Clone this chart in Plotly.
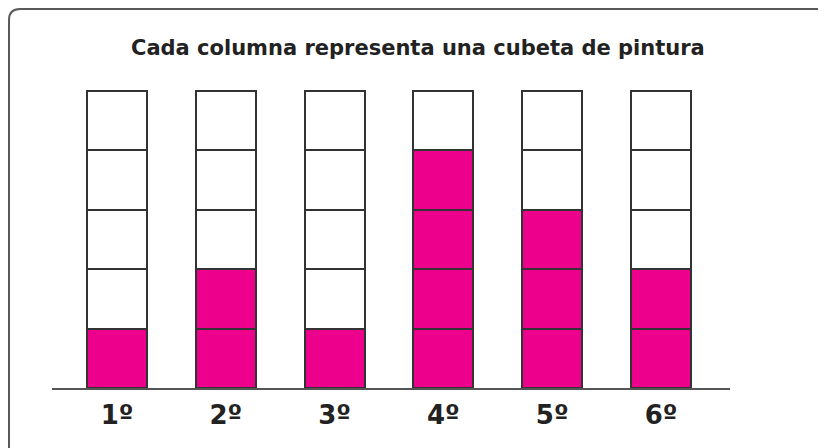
import plotly.graph_objects as go

categories = ["1º", "2º", "3º", "4º", "5º", "6º"]
filled = [1, 2, 1, 4, 3, 2]
cells_per_column = 5
title_text = "Cada columna representa una cubeta de pintura"

PINK = "#EC008C"
WHITE = "#FFFFFF"
EDGE = "#333333"

W, H = 826, 448
OFF = 8  # page body margin offset
ml, mr, mt, mb = 52 - OFF, 96 + OFF, 80 - OFF, 60 + OFF
plot_w = W - ml - mr
plot_h = H - mt - mb

xs = list(range(len(categories)))
px_per_x = 108.8
x0_px = (117 - OFF) - ml
xrange = [-x0_px / px_per_x, (plot_w - x0_px) / px_per_x]
cell_px = 59.4
yrange = [0, plot_h / cell_px]

fig = go.Figure()
for level in range(1, cells_per_column + 1):
    colors = [PINK if level <= f else WHITE for f in filled]
    fig.add_trace(go.Bar(
        x=xs, y=[1] * len(xs), width=60 / px_per_x,
        marker=dict(color=colors, line=dict(color=EDGE, width=2)),
        hoverinfo="skip", showlegend=False,
    ))

# helpers: figure-pixel -> paper coords
def px2paper_x(p):
    return (p - ml) / plot_w

def px2paper_y(p):
    return (H - mb - p) / plot_h

bx0 = px2paper_x(1)
bx1 = px2paper_x(840)
by_top = px2paper_y(1)
by_bot = px2paper_y(460)
rx = 11 / plot_w
ry = 11 / plot_h
path = (f"M {bx0},{by_bot} L {bx0},{by_top - ry} Q {bx0},{by_top} {bx0 + rx},{by_top} "
        f"L {bx1},{by_top}")

fig.update_layout(
    width=W, height=H,
    margin=dict(l=ml, r=mr, t=mt, b=mb),
    paper_bgcolor="white", plot_bgcolor="white",
    barmode="stack", bargap=0,
    shapes=[dict(type="path", xref="paper", yref="paper", path=path,
                 line=dict(color="#5a5a5a", width=2))],
    annotations=[dict(text=f"<b>{title_text}</b>", xref="paper", yref="paper",
                      x=px2paper_x(418 - OFF), y=px2paper_y(48 - OFF),
                      xanchor="center", yanchor="middle",
                      showarrow=False, font=dict(family="DejaVu Sans", size=21, color="#222222"))],
    xaxis=dict(range=xrange, tickvals=xs, ticktext=[f"<b>{c}</b>" for c in categories],
               showgrid=False, zeroline=False, showline=True, linecolor="#555555", linewidth=2,
               ticks="", tickfont=dict(family="DejaVu Sans", size=26, color="#222222"),
               ticklabelstandoff=3, fixedrange=True),
    yaxis=dict(range=yrange, visible=False, fixedrange=True),
)

fig.write_html("out.html")
